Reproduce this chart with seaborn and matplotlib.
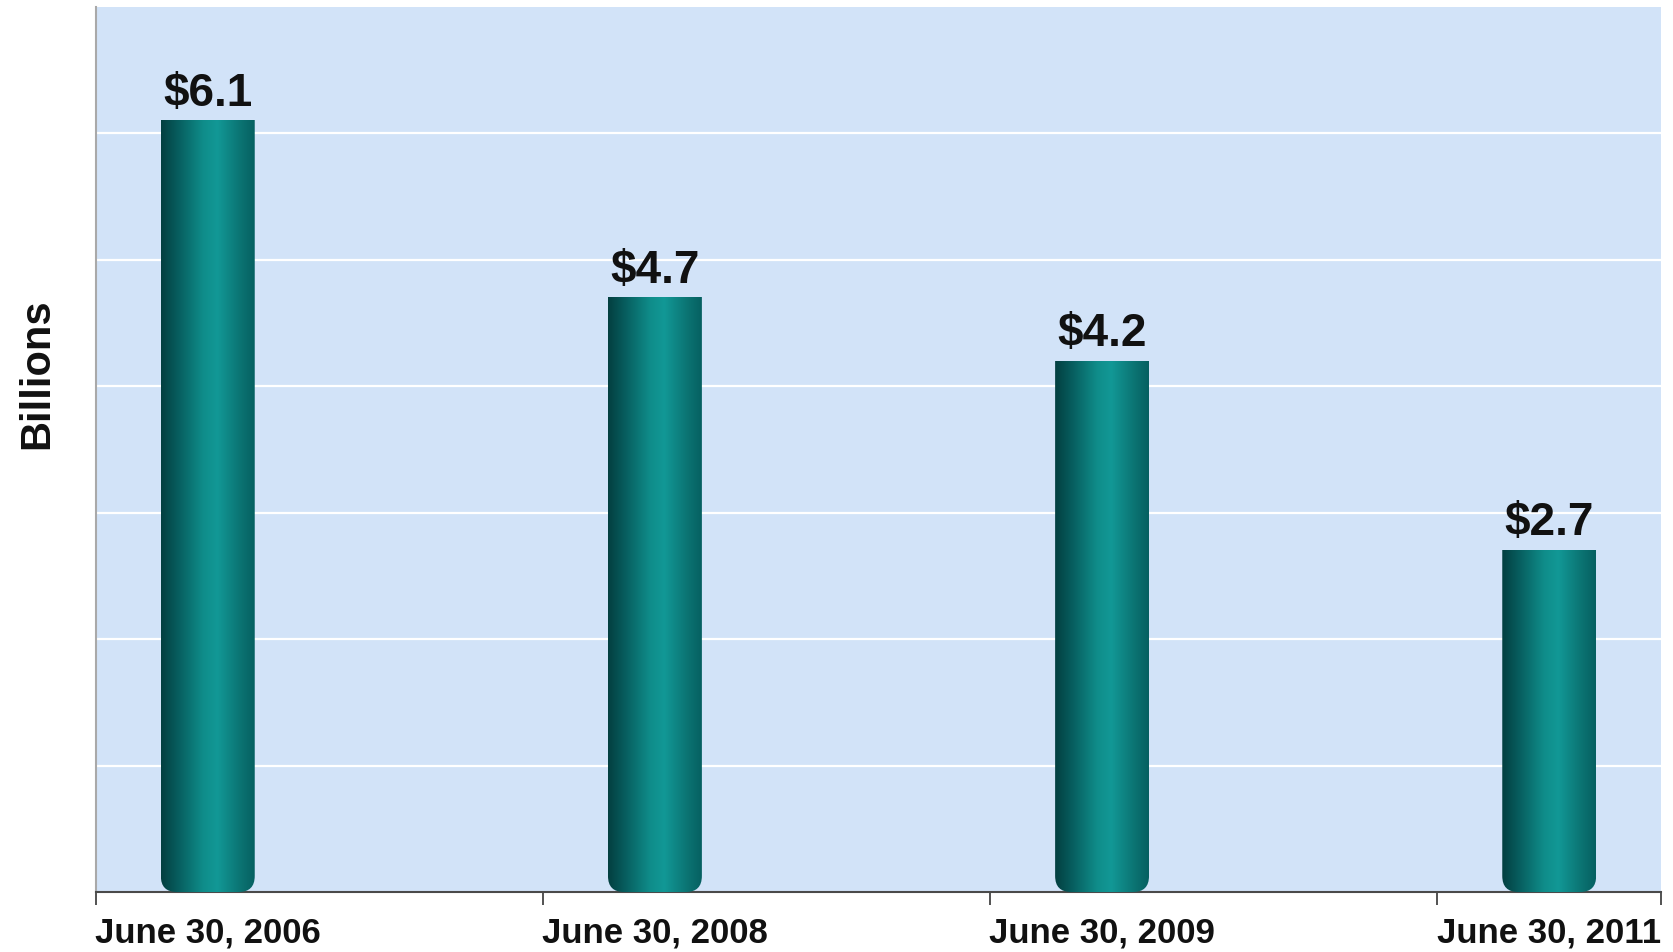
import numpy as np
import pandas as pd
import matplotlib
matplotlib.use("Agg")
import matplotlib.pyplot as plt
import seaborn as sns
from matplotlib.colors import LinearSegmentedColormap
from matplotlib.patches import FancyBboxPatch
from matplotlib.transforms import IdentityTransform

# ---- data ----
categories = ["June 30, 2006", "June 30, 2008", "June 30, 2009", "June 30, 2011"]
values = [6.1, 4.7, 4.2, 2.7]
value_labels = ["$6.1", "$4.7", "$4.2", "$2.7"]
y_label = "Billions"

sns.set_theme(style="white")
plt.rcParams["font.family"] = ["Liberation Sans", "DejaVu Sans"]

fig = plt.figure(figsize=(16.73, 9.52), dpi=100)
ax = fig.add_axes([96 / 1673, 1 - 892 / 952, (1661 - 96) / 1673, (892 - 7) / 952])

df = pd.DataFrame({"date": categories, "value": values})
sns.barplot(data=df, x="date", y="value", ax=ax, width=0.21,
            color="#0b7b7b", edgecolor="none", saturation=1, zorder=3)

ax.set_facecolor("#d2e3f8")
ax.set_ylim(0, 7)
ax.set_xlim(-0.25, len(categories) - 0.75)
ax.set_yticks(np.arange(1, 7))
ax.set_yticklabels([])
ax.tick_params(axis="y", length=0)
ax.grid(axis="y", color="white", linewidth=1.6, zorder=1)
ax.grid(axis="x", visible=False)
ax.set_axisbelow(True)

# x ticks: boundary marks, labels under bars
bounds = list(np.arange(len(categories)) - 0.25) + [len(categories) - 0.75]
ax.set_xticks(bounds, minor=True)
ax.tick_params(axis="x", which="minor", bottom=True, length=9, width=1.3,
               color="#444444", direction="out")
ax.set_xticks(np.arange(len(categories)))
ax.set_xticklabels(categories, fontsize=25, fontweight="bold", color="#111111")
ax.tick_params(axis="x", which="major", bottom=False, length=0, pad=18)
ax.set_xlabel("")
ax.set_ylabel("")

for s in ["top", "right"]:
    ax.spines[s].set_visible(False)
ax.spines["left"].set_color("#a9a9a9")
ax.spines["left"].set_linewidth(1.5)
ax.spines["bottom"].set_color("#4a4a4a")
ax.spines["bottom"].set_linewidth(1.5)

fig.text(37 / 1673, 1 - 374 / 952, y_label, rotation=90, ha="center", va="center",
         fontsize=30, fontweight="bold", color="#111111")

# value labels
for i, (v, lab) in enumerate(zip(values, value_labels)):
    ax.annotate(lab.replace("$", r"\$"), (i, v), xytext=(0, 11), textcoords="offset points",
                ha="center", va="baseline", fontsize=33, fontweight="bold", color="#111111",
                zorder=5)

# cylinder gradient on bars
cmap = LinearSegmentedColormap.from_list(
    "cyl", [(0.0, "#033f40"), (0.18, "#075d5e"), (0.45, "#0f8d8a"),
            (0.6, "#129896"), (0.85, "#0b7372"), (1.0, "#066061")])
grad = np.linspace(0, 1, 256).reshape(1, -1)
fig.canvas.draw()
radius_px = 16
for p in list(ax.patches):
    x0, y0 = p.get_x(), p.get_y()
    w, h = p.get_width(), p.get_height()
    p.set_visible(False)
    im = ax.imshow(grad, cmap=cmap, aspect="auto", extent=(x0, x0 + w, y0, y0 + h),
                   zorder=3, interpolation="bicubic")
    (dx0, dy0) = ax.transData.transform((x0, y0))
    (dx1, dy1) = ax.transData.transform((x0 + w, y0 + h))
    clip = FancyBboxPatch((dx0 + radius_px, dy0 + radius_px),
                          (dx1 - dx0) - 2 * radius_px, (dy1 - dy0) + 10,
                          boxstyle=f"round,pad={radius_px}", transform=IdentityTransform(),
                          facecolor="none", edgecolor="none")
    im.set_clip_path(clip)

ax.set_xlim(-0.25, len(categories) - 0.75)
ax.set_ylim(0, 7)

fig.savefig("out.png", dpi=100)
